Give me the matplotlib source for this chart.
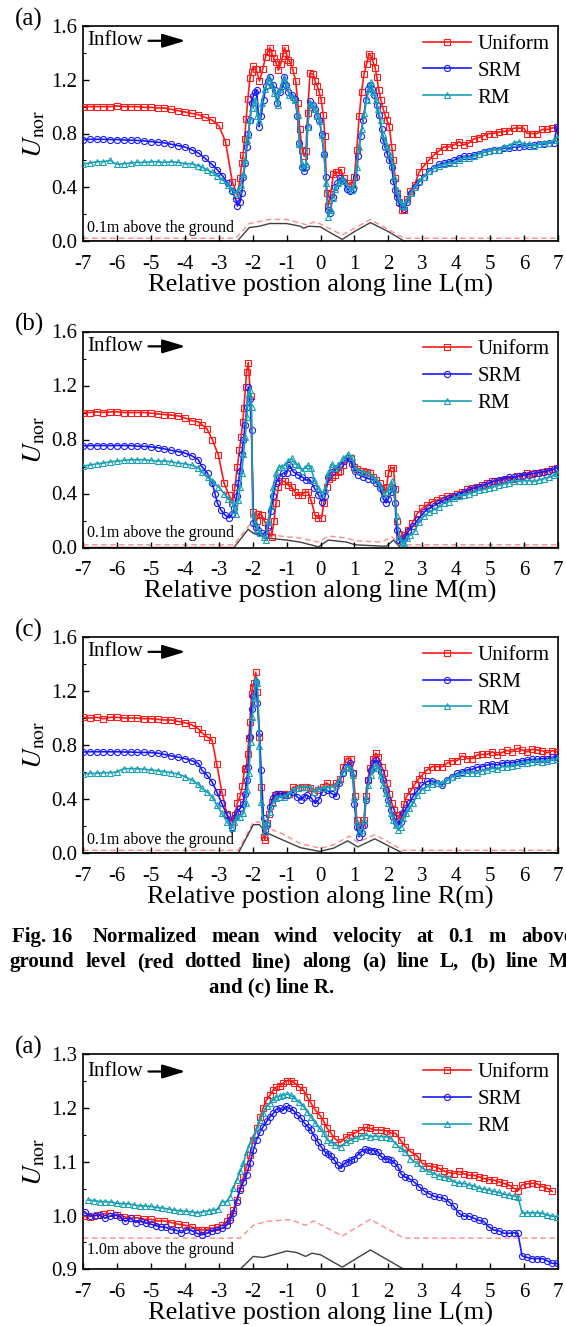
import matplotlib
matplotlib.use('Agg')
import matplotlib.pyplot as plt
from matplotlib.ticker import MultipleLocator, FormatStrFormatter

plt.rcParams['font.family'] = ['Liberation Serif', 'DejaVu Serif']
plt.rcParams['mathtext.fontset'] = 'stix'
plt.rcParams['axes.unicode_minus'] = False

# ---------------- Panel (a): line L, 0.1 m ----------------
L_uni_x = [-7.0,-6.8,-6.6,-6.4,-6.2,-6.0,-5.8,-5.6,-5.4,-5.2,-5.0,-4.8,-4.6,-4.4,-4.2,-4.0,-3.8,-3.6,-3.4,-3.2,-3.0,-2.8,-2.6,-2.45,-2.37,-2.32,-2.28,-2.24,-2.19,-2.14,-2.08,-2.03,-1.98,-1.9,-1.8,-1.7,-1.62,-1.55,-1.49,-1.44,-1.37,-1.32,-1.24,-1.17,-1.11,-1.06,-1.01,-0.95,-0.89,-0.81,-0.73,-0.67,-0.61,-0.54,-0.48,-0.43,-0.38,-0.31,-0.21,-0.16,-0.09,-0.04,0.02,0.08,0.13,0.18,0.23,0.30,0.38,0.45,0.52,0.60,0.68,0.80,0.92,1.00,1.07,1.14,1.21,1.28,1.36,1.42,1.48,1.54,1.61,1.66,1.72,1.78,1.85,1.90,1.96,2.03,2.10,2.15,2.20,2.24,2.31,2.39,2.46,2.54,2.64,2.78,2.90,3.05,3.19,3.34,3.49,3.63,3.78,3.93,4.08,4.22,4.37,4.52,4.67,4.81,4.96,5.10,5.25,5.40,5.55,5.70,5.84,5.99,6.09,6.24,6.39,6.53,6.68,6.83,6.97]
L_uni_y = [1.00,1.00,1.00,1.00,1.00,1.005,1.00,1.00,1.00,0.995,0.995,0.99,0.99,0.98,0.97,0.96,0.95,0.94,0.92,0.90,0.86,0.74,0.44,0.34,0.47,0.58,0.64,0.76,0.91,1.06,1.21,1.26,1.30,1.28,1.19,1.28,1.37,1.41,1.44,1.40,1.36,1.33,1.27,1.32,1.38,1.44,1.40,1.35,1.33,1.27,1.19,1.03,0.83,0.68,0.63,0.67,0.95,1.25,1.24,1.19,1.15,1.11,1.05,0.94,0.78,0.36,0.26,0.35,0.50,0.51,0.51,0.53,0.47,0.43,0.42,0.48,0.68,0.93,1.11,1.24,1.32,1.39,1.38,1.34,1.29,1.22,1.12,1.05,0.98,0.94,0.90,0.85,0.70,0.60,0.47,0.36,0.29,0.23,0.23,0.31,0.37,0.42,0.51,0.56,0.60,0.64,0.67,0.70,0.70,0.715,0.74,0.715,0.73,0.76,0.77,0.785,0.80,0.80,0.81,0.815,0.82,0.84,0.84,0.84,0.80,0.80,0.80,0.83,0.83,0.84,0.85]
L_srm_x = [-7.0,-6.8,-6.6,-6.4,-6.2,-6.0,-5.8,-5.6,-5.4,-5.2,-5.0,-4.8,-4.6,-4.4,-4.2,-4.0,-3.8,-3.6,-3.4,-3.2,-3.04,-2.89,-2.74,-2.6,-2.5,-2.45,-2.37,-2.32,-2.27,-2.22,-2.17,-2.13,-2.08,-2.03,-1.98,-1.93,-1.88,-1.81,-1.75,-1.68,-1.61,-1.54,-1.49,-1.41,-1.34,-1.27,-1.19,-1.12,-1.07,-1.02,-0.95,-0.85,-0.75,-0.68,-0.62,-0.55,-0.49,-0.43,-0.38,-0.31,-0.23,-0.16,-0.09,-0.03,0.03,0.10,0.16,0.21,0.28,0.36,0.43,0.50,0.57,0.65,0.77,0.87,0.97,1.05,1.11,1.18,1.26,1.34,1.41,1.46,1.53,1.58,1.66,1.72,1.80,1.85,1.90,1.97,2.03,2.10,2.15,2.20,2.24,2.31,2.39,2.46,2.56,2.66,2.78,2.90,3.05,3.19,3.34,3.49,3.63,3.78,3.93,4.08,4.22,4.37,4.52,4.67,4.81,4.96,5.10,5.25,5.40,5.55,5.70,5.84,5.99,6.14,6.29,6.43,6.58,6.73,6.88,6.97]
L_srm_y = [0.755,0.757,0.757,0.757,0.755,0.755,0.752,0.75,0.748,0.745,0.74,0.735,0.73,0.72,0.71,0.70,0.68,0.655,0.615,0.57,0.53,0.485,0.43,0.375,0.31,0.26,0.29,0.36,0.48,0.58,0.70,0.80,0.90,1.03,1.08,1.11,1.12,0.85,0.93,1.05,1.15,1.19,1.22,1.16,1.12,1.03,1.11,1.15,1.22,1.16,1.11,1.09,1.06,0.93,0.73,0.55,0.52,0.55,0.85,1.04,1.01,0.98,0.93,0.90,0.80,0.65,0.48,0.23,0.21,0.33,0.40,0.43,0.47,0.45,0.39,0.37,0.39,0.48,0.63,0.78,0.90,1.05,1.13,1.16,1.13,1.09,1.01,0.94,0.83,0.75,0.70,0.65,0.60,0.55,0.45,0.38,0.33,0.28,0.26,0.24,0.29,0.36,0.40,0.44,0.48,0.52,0.54,0.57,0.58,0.59,0.60,0.62,0.63,0.63,0.64,0.65,0.66,0.67,0.68,0.68,0.69,0.69,0.70,0.70,0.71,0.71,0.715,0.72,0.72,0.73,0.73,0.85]
L_rm_x = [-7.0,-6.8,-6.6,-6.4,-6.2,-6.0,-5.8,-5.6,-5.4,-5.2,-5.0,-4.8,-4.6,-4.4,-4.2,-4.0,-3.8,-3.6,-3.5,-3.35,-3.19,-3.04,-2.89,-2.74,-2.6,-2.49,-2.42,-2.35,-2.27,-2.22,-2.17,-2.13,-2.08,-2.03,-1.93,-1.86,-1.80,-1.73,-1.65,-1.59,-1.51,-1.44,-1.36,-1.26,-1.19,-1.11,-1.07,-0.99,-0.92,-0.82,-0.75,-0.67,-0.62,-0.54,-0.48,-0.43,-0.38,-0.31,-0.23,-0.16,-0.09,-0.02,0.04,0.11,0.16,0.23,0.30,0.36,0.43,0.53,0.62,0.70,0.82,0.92,1.00,1.07,1.14,1.21,1.29,1.36,1.43,1.48,1.56,1.63,1.70,1.77,1.83,1.90,1.97,2.05,2.12,2.17,2.24,2.31,2.39,2.46,2.56,2.66,2.78,2.90,3.05,3.19,3.34,3.49,3.63,3.78,3.93,4.08,4.22,4.37,4.52,4.67,4.81,4.96,5.10,5.25,5.40,5.55,5.70,5.84,5.99,6.14,6.29,6.43,6.58,6.73,6.88,6.97]
L_rm_y = [0.575,0.58,0.59,0.59,0.60,0.57,0.575,0.58,0.585,0.585,0.59,0.59,0.585,0.59,0.585,0.575,0.575,0.56,0.55,0.53,0.51,0.485,0.455,0.42,0.38,0.355,0.38,0.42,0.50,0.60,0.75,0.79,0.90,0.99,1.05,0.93,0.89,1.03,1.13,1.16,1.21,1.16,1.10,1.01,1.13,1.19,1.21,1.15,1.09,1.07,1.05,0.94,0.72,0.57,0.54,0.57,0.85,1.03,1.01,0.98,0.93,0.89,0.79,0.65,0.43,0.18,0.23,0.32,0.39,0.43,0.46,0.45,0.40,0.38,0.42,0.55,0.70,0.83,0.95,1.05,1.13,1.18,1.11,1.05,0.98,0.90,0.80,0.74,0.70,0.64,0.58,0.48,0.38,0.31,0.27,0.26,0.31,0.36,0.40,0.45,0.48,0.52,0.54,0.56,0.57,0.58,0.58,0.60,0.62,0.62,0.63,0.65,0.66,0.67,0.68,0.68,0.70,0.71,0.73,0.74,0.72,0.72,0.71,0.72,0.73,0.73,0.75,0.77]
L_gnd_x = [-7,-2.45,-2.1,-1.8,-1.5,-1.0,-0.6,-0.5,-0.35,0.0,0.3,0.64,1.0,1.47,2.0,2.46,7]
L_gnd_y = [0,0,0.10,0.11,0.13,0.13,0.11,0.095,0.11,0.105,0.06,0.012,0.07,0.137,0.07,0,0]
L_dash_x = [-7,-2.5,-2.1,-1.5,-1.0,-0.4,-0.15,0.64,1.47,2.46,7]
L_dash_y = [0.02,0.02,0.13,0.16,0.16,0.12,0.145,0.045,0.16,0.02,0.02]

# ---------------- Panel (b): line M, 0.1 m ----------------
M_uni_x = [-7.0,-6.8,-6.6,-6.4,-6.2,-6.0,-5.8,-5.6,-5.4,-5.2,-5.0,-4.8,-4.6,-4.4,-4.2,-4.0,-3.8,-3.6,-3.5,-3.35,-3.19,-3.01,-2.84,-2.70,-2.60,-2.52,-2.45,-2.39,-2.34,-2.29,-2.26,-2.21,-2.18,-2.13,-2.06,-1.98,-1.88,-1.83,-1.73,-1.64,-1.54,-1.44,-1.37,-1.31,-1.24,-1.14,-1.05,-0.95,-0.85,-0.75,-0.67,-0.55,-0.46,-0.36,-0.28,-0.16,-0.06,0.03,0.10,0.18,0.26,0.33,0.43,0.51,0.57,0.67,0.82,0.90,0.99,1.07,1.16,1.26,1.36,1.46,1.56,1.65,1.75,1.83,1.90,1.95,2.00,2.07,2.15,2.20,2.24,2.31,2.39,2.46,2.57,2.70,2.85,3.00,3.14,3.29,3.44,3.59,3.73,3.88,4.03,4.17,4.32,4.47,4.62,4.76,4.91,5.06,5.21,5.35,5.50,5.65,5.80,5.94,6.09,6.24,6.39,6.53,6.68,6.83,6.97]
M_uni_y = [1.00,1.00,1.005,1.00,1.005,1.005,1.00,1.00,1.00,1.00,0.995,0.99,0.985,0.98,0.975,0.96,0.94,0.93,0.91,0.88,0.80,0.685,0.475,0.39,0.33,0.45,0.60,0.72,0.82,0.93,1.03,1.19,1.30,1.37,1.12,0.26,0.20,0.25,0.24,0.19,0.12,0.08,0.20,0.33,0.45,0.49,0.49,0.46,0.45,0.41,0.39,0.39,0.41,0.41,0.35,0.24,0.22,0.22,0.33,0.45,0.51,0.525,0.54,0.56,0.57,0.61,0.66,0.66,0.60,0.585,0.57,0.57,0.56,0.55,0.525,0.50,0.475,0.44,0.41,0.45,0.55,0.59,0.59,0.43,0.20,0.10,0.06,0.09,0.13,0.18,0.25,0.29,0.315,0.34,0.35,0.365,0.38,0.385,0.40,0.41,0.43,0.44,0.45,0.46,0.475,0.49,0.495,0.50,0.51,0.51,0.53,0.53,0.55,0.545,0.555,0.56,0.57,0.58,0.59]
M_srm_x = [-7.0,-6.8,-6.6,-6.4,-6.2,-6.0,-5.8,-5.6,-5.4,-5.2,-5.0,-4.8,-4.6,-4.4,-4.2,-4.0,-3.8,-3.6,-3.5,-3.33,-3.19,-3.11,-3.04,-2.94,-2.81,-2.69,-2.60,-2.54,-2.47,-2.42,-2.37,-2.32,-2.27,-2.22,-2.17,-2.13,-2.08,-2.03,-1.98,-1.91,-1.83,-1.73,-1.64,-1.54,-1.46,-1.39,-1.31,-1.21,-1.10,-1.00,-0.92,-0.80,-0.67,-0.55,-0.43,-0.31,-0.18,-0.06,0.03,0.13,0.23,0.33,0.46,0.57,0.69,0.82,0.92,1.02,1.11,1.26,1.41,1.56,1.65,1.75,1.85,1.93,2.00,2.08,2.15,2.20,2.24,2.32,2.41,2.49,2.59,2.73,2.88,3.05,3.19,3.34,3.49,3.63,3.78,3.93,4.08,4.22,4.37,4.52,4.67,4.81,4.96,5.10,5.25,5.40,5.55,5.70,5.84,5.99,6.14,6.29,6.43,6.58,6.73,6.88,6.97]
M_srm_y = [0.752,0.755,0.755,0.755,0.755,0.755,0.755,0.755,0.75,0.75,0.745,0.74,0.73,0.72,0.71,0.70,0.68,0.65,0.60,0.55,0.475,0.40,0.33,0.28,0.24,0.22,0.25,0.29,0.38,0.48,0.57,0.69,0.80,0.91,1.04,1.19,1.10,0.87,0.18,0.15,0.13,0.105,0.09,0.15,0.27,0.38,0.48,0.525,0.55,0.55,0.61,0.56,0.54,0.525,0.50,0.50,0.44,0.39,0.34,0.38,0.525,0.56,0.59,0.61,0.64,0.66,0.62,0.57,0.54,0.525,0.51,0.50,0.475,0.44,0.36,0.33,0.36,0.41,0.44,0.33,0.13,0.055,0.04,0.08,0.12,0.16,0.21,0.26,0.29,0.31,0.33,0.35,0.365,0.38,0.39,0.41,0.425,0.44,0.45,0.46,0.475,0.49,0.50,0.51,0.52,0.52,0.53,0.54,0.54,0.55,0.555,0.56,0.57,0.58,0.59]
M_rm_x = [-7.0,-6.8,-6.6,-6.4,-6.2,-6.0,-5.8,-5.6,-5.4,-5.2,-5.0,-4.8,-4.6,-4.4,-4.2,-4.0,-3.8,-3.6,-3.5,-3.33,-3.19,-3.01,-2.84,-2.72,-2.60,-2.54,-2.49,-2.42,-2.37,-2.32,-2.27,-2.22,-2.17,-2.15,-2.11,-2.08,-2.03,-2.00,-1.93,-1.86,-1.78,-1.68,-1.61,-1.54,-1.47,-1.39,-1.31,-1.22,-1.14,-1.05,-0.95,-0.85,-0.75,-0.65,-0.55,-0.46,-0.36,-0.28,-0.18,-0.06,0.03,0.13,0.23,0.33,0.43,0.53,0.67,0.82,0.92,1.02,1.14,1.26,1.41,1.54,1.65,1.75,1.87,1.95,2.03,2.10,2.17,2.24,2.32,2.39,2.46,2.54,2.64,2.78,2.90,3.05,3.19,3.34,3.49,3.63,3.78,3.93,4.08,4.22,4.37,4.52,4.67,4.81,4.96,5.10,5.25,5.40,5.55,5.70,5.84,5.99,6.14,6.29,6.43,6.58,6.73,6.88,6.97]
M_rm_y = [0.604,0.61,0.62,0.625,0.635,0.64,0.645,0.65,0.65,0.65,0.645,0.64,0.64,0.635,0.625,0.62,0.61,0.59,0.56,0.52,0.49,0.45,0.40,0.36,0.33,0.28,0.25,0.35,0.45,0.55,0.69,0.82,0.97,1.07,1.14,1.17,1.04,0.25,0.19,0.14,0.105,0.08,0.055,0.20,0.31,0.45,0.55,0.60,0.60,0.61,0.64,0.66,0.62,0.61,0.57,0.59,0.61,0.59,0.50,0.44,0.40,0.43,0.55,0.62,0.59,0.61,0.66,0.69,0.67,0.59,0.57,0.56,0.55,0.525,0.50,0.46,0.40,0.41,0.45,0.49,0.43,0.23,0.08,0.04,0.03,0.07,0.09,0.12,0.19,0.23,0.26,0.28,0.30,0.33,0.34,0.365,0.38,0.39,0.40,0.41,0.425,0.43,0.44,0.45,0.46,0.47,0.48,0.49,0.49,0.495,0.495,0.49,0.50,0.51,0.52,0.535,0.55]
M_gnd_x = [-7,-2.55,-2.13,-1.98,-1.59,-1.0,-0.6,-0.06,0.23,0.77,1.02,1.8,1.95,2.15,2.35,7]
M_gnd_y = [0,0,0.135,0.105,0.07,0.055,0.04,0.005,0.055,0.04,0.02,0.01,0.01,0.055,0,0]
M_dash_x = [-7,-2.55,-2.1,-1.95,-1.59,-1.0,-0.6,-0.06,0.23,0.77,1.02,1.8,2.1,2.35,7]
M_dash_y = [0.02,0.02,0.165,0.13,0.095,0.08,0.07,0.04,0.085,0.07,0.05,0.04,0.08,0.02,0.02]

# ---------------- Panel (c): line R, 0.1 m ----------------
R_uni_x = [-7.0,-6.8,-6.6,-6.4,-6.2,-6.0,-5.8,-5.6,-5.4,-5.2,-5.0,-4.8,-4.6,-4.4,-4.2,-4.0,-3.8,-3.6,-3.5,-3.35,-3.20,-3.06,-2.91,-2.76,-2.62,-2.52,-2.45,-2.37,-2.30,-2.24,-2.19,-2.15,-2.11,-2.08,-2.03,-2.00,-1.96,-1.91,-1.86,-1.80,-1.75,-1.68,-1.64,-1.59,-1.51,-1.44,-1.34,-1.24,-1.14,-1.05,-0.92,-0.80,-0.65,-0.55,-0.43,-0.31,-0.18,-0.06,0.06,0.18,0.33,0.46,0.57,0.67,0.77,0.89,0.97,1.02,1.07,1.13,1.21,1.28,1.33,1.39,1.46,1.54,1.63,1.70,1.80,1.88,1.95,2.02,2.10,2.17,2.24,2.32,2.39,2.46,2.54,2.66,2.78,2.90,3.00,3.14,3.29,3.44,3.59,3.73,3.88,4.03,4.17,4.32,4.47,4.62,4.76,4.91,5.06,5.21,5.35,5.50,5.65,5.80,5.94,6.09,6.24,6.39,6.53,6.68,6.83,6.97]
R_uni_y = [1.005,1.00,1.005,0.995,1.005,1.005,1.00,1.00,1.00,0.995,0.995,0.99,0.985,0.985,0.975,0.965,0.95,0.92,0.89,0.86,0.84,0.66,0.455,0.29,0.233,0.28,0.37,0.42,0.50,0.62,0.63,0.73,0.85,0.97,1.18,1.23,1.26,1.34,1.195,0.86,0.49,0.12,0.10,0.22,0.29,0.38,0.43,0.44,0.44,0.44,0.44,0.49,0.48,0.49,0.49,0.48,0.455,0.47,0.49,0.52,0.49,0.52,0.55,0.64,0.70,0.70,0.59,0.42,0.245,0.195,0.208,0.245,0.42,0.54,0.63,0.70,0.74,0.71,0.64,0.59,0.52,0.44,0.37,0.32,0.28,0.26,0.29,0.36,0.42,0.46,0.51,0.55,0.58,0.615,0.64,0.64,0.64,0.665,0.684,0.684,0.72,0.70,0.70,0.726,0.73,0.73,0.75,0.726,0.745,0.76,0.75,0.775,0.763,0.75,0.768,0.763,0.758,0.743,0.758,0.75]
R_srm_x = [-7.0,-6.8,-6.6,-6.4,-6.2,-6.0,-5.8,-5.6,-5.4,-5.2,-5.0,-4.8,-4.6,-4.4,-4.2,-4.0,-3.8,-3.6,-3.5,-3.35,-3.20,-3.06,-2.91,-2.76,-2.62,-2.54,-2.45,-2.37,-2.29,-2.22,-2.17,-2.13,-2.08,-2.03,-1.98,-1.91,-1.86,-1.80,-1.75,-1.68,-1.64,-1.57,-1.49,-1.41,-1.31,-1.19,-1.08,-0.95,-0.82,-0.70,-0.58,-0.49,-0.41,-0.26,-0.16,-0.06,0.06,0.18,0.33,0.46,0.55,0.65,0.75,0.87,0.95,1.00,1.07,1.13,1.21,1.28,1.34,1.41,1.48,1.56,1.64,1.70,1.78,1.85,1.93,2.00,2.08,2.15,2.22,2.29,2.36,2.44,2.52,2.62,2.73,2.85,3.00,3.14,3.29,3.44,3.59,3.73,3.88,4.03,4.17,4.32,4.47,4.62,4.76,4.91,5.06,5.21,5.35,5.50,5.65,5.80,5.94,6.09,6.24,6.39,6.53,6.68,6.83,6.97]
R_srm_y = [0.748,0.75,0.75,0.75,0.75,0.75,0.748,0.748,0.745,0.745,0.744,0.74,0.73,0.72,0.71,0.70,0.685,0.664,0.615,0.578,0.528,0.455,0.368,0.282,0.195,0.257,0.307,0.33,0.36,0.44,0.54,0.64,0.86,1.07,1.16,1.27,1.11,0.89,0.615,0.257,0.17,0.21,0.344,0.405,0.437,0.44,0.43,0.43,0.455,0.418,0.393,0.418,0.43,0.405,0.368,0.393,0.455,0.467,0.44,0.42,0.517,0.59,0.64,0.665,0.59,0.36,0.195,0.12,0.146,0.208,0.393,0.54,0.615,0.665,0.69,0.66,0.603,0.54,0.467,0.393,0.32,0.27,0.232,0.208,0.232,0.294,0.33,0.368,0.42,0.46,0.504,0.53,0.536,0.516,0.504,0.54,0.566,0.59,0.603,0.615,0.62,0.635,0.64,0.652,0.66,0.652,0.665,0.67,0.67,0.677,0.684,0.69,0.694,0.694,0.70,0.70,0.709,0.714]
R_rm_x = [-7.0,-6.8,-6.6,-6.4,-6.2,-6.0,-5.8,-5.6,-5.4,-5.2,-5.0,-4.8,-4.6,-4.4,-4.2,-4.0,-3.8,-3.6,-3.5,-3.35,-3.20,-3.06,-2.91,-2.76,-2.62,-2.54,-2.45,-2.37,-2.27,-2.20,-2.16,-2.11,-2.06,-2.01,-1.96,-1.91,-1.86,-1.80,-1.75,-1.68,-1.64,-1.57,-1.49,-1.41,-1.31,-1.19,-1.08,-0.95,-0.82,-0.70,-0.58,-0.46,-0.31,-0.18,-0.06,0.06,0.18,0.33,0.46,0.55,0.65,0.77,0.87,0.95,1.00,1.07,1.13,1.21,1.28,1.34,1.41,1.48,1.56,1.64,1.70,1.78,1.85,1.93,2.00,2.08,2.15,2.22,2.29,2.36,2.44,2.52,2.62,2.73,2.85,3.00,3.14,3.29,3.44,3.59,3.73,3.88,4.03,4.17,4.32,4.47,4.62,4.76,4.91,5.06,5.21,5.35,5.50,5.65,5.80,5.94,6.09,6.24,6.39,6.53,6.68,6.83,6.97]
R_rm_y = [0.585,0.59,0.59,0.595,0.595,0.60,0.625,0.625,0.625,0.62,0.615,0.61,0.603,0.595,0.585,0.566,0.54,0.51,0.48,0.455,0.418,0.356,0.294,0.232,0.183,0.232,0.27,0.27,0.294,0.368,0.467,0.59,0.825,1.01,1.15,1.29,1.26,0.79,0.38,0.208,0.158,0.232,0.307,0.368,0.405,0.418,0.418,0.437,0.467,0.48,0.49,0.49,0.49,0.455,0.48,0.48,0.49,0.49,0.504,0.54,0.603,0.64,0.627,0.578,0.418,0.232,0.158,0.17,0.245,0.405,0.504,0.578,0.627,0.652,0.627,0.578,0.504,0.442,0.368,0.294,0.245,0.208,0.17,0.195,0.257,0.294,0.33,0.368,0.43,0.47,0.49,0.51,0.516,0.52,0.54,0.566,0.578,0.59,0.595,0.595,0.59,0.61,0.615,0.627,0.62,0.64,0.64,0.645,0.652,0.665,0.665,0.677,0.684,0.677,0.684,0.69,0.70]
R_gnd_x = [-7,-2.42,-1.98,-1.8,-1.59,-1.1,-0.6,-0.03,0.38,0.8,1.1,1.6,1.95,2.42,7]
R_gnd_y = [0,0,0.21,0.21,0.15,0.095,0.04,0.012,0.035,0.09,0.045,0.105,0.06,0,0]
R_dash_x = [-7,-2.42,-1.98,-1.8,-1.59,-1.1,-0.6,0.0,0.38,0.85,1.1,1.6,1.95,2.42,7]
R_dash_y = [0.02,0.02,0.23,0.23,0.19,0.14,0.07,0.035,0.06,0.125,0.08,0.135,0.09,0.02,0.02]

# ---------------- Panel (a, lower): line L, 1.0 m ----------------
H_uni_x = [-7.0,-6.8,-6.6,-6.4,-6.2,-6.0,-5.8,-5.6,-5.4,-5.2,-5.0,-4.8,-4.6,-4.4,-4.2,-4.0,-3.8,-3.6,-3.5,-3.35,-3.2,-3.05,-2.9,-2.76,-2.67,-2.57,-2.47,-2.37,-2.27,-2.18,-2.08,-1.98,-1.88,-1.78,-1.69,-1.59,-1.49,-1.39,-1.30,-1.20,-1.10,-1.00,-0.88,-0.77,-0.64,-0.51,-0.39,-0.28,-0.15,-0.02,0.10,0.20,0.31,0.44,0.59,0.74,0.88,1.03,1.18,1.33,1.47,1.62,1.77,1.92,2.06,2.21,2.36,2.50,2.65,2.85,3.00,3.19,3.34,3.49,3.63,3.78,3.93,4.08,4.22,4.37,4.52,4.67,4.81,4.96,5.10,5.25,5.40,5.55,5.70,5.82,5.94,6.09,6.24,6.39,6.53,6.68,6.83]
H_uni_y = [0.999,0.998,1.001,1.003,1.004,1.001,0.998,0.995,0.996,0.993,0.993,0.99,0.99,0.987,0.984,0.982,0.979,0.974,0.973,0.974,0.976,0.978,0.982,0.989,0.998,1.01,1.029,1.051,1.072,1.091,1.113,1.141,1.162,1.184,1.20,1.215,1.224,1.234,1.239,1.241,1.246,1.251,1.251,1.247,1.24,1.234,1.221,1.209,1.196,1.187,1.175,1.162,1.153,1.142,1.136,1.146,1.15,1.154,1.159,1.164,1.162,1.159,1.159,1.158,1.154,1.153,1.14,1.128,1.119,1.111,1.097,1.092,1.091,1.088,1.083,1.08,1.078,1.082,1.078,1.075,1.075,1.072,1.069,1.067,1.066,1.063,1.06,1.057,1.051,1.046,1.057,1.059,1.06,1.059,1.054,1.051,1.045]
H_srm_x = [-6.95,-6.8,-6.65,-6.5,-6.35,-6.2,-6.05,-5.9,-5.75,-5.6,-5.45,-5.3,-5.15,-5.0,-4.85,-4.7,-4.55,-4.4,-4.25,-4.1,-3.95,-3.8,-3.65,-3.5,-3.35,-3.2,-3.06,-2.91,-2.76,-2.67,-2.57,-2.47,-2.37,-2.27,-2.18,-2.08,-1.98,-1.88,-1.78,-1.69,-1.59,-1.49,-1.39,-1.30,-1.20,-1.10,-1.03,-0.93,-0.80,-0.69,-0.57,-0.47,-0.37,-0.28,-0.18,-0.08,0.02,0.12,0.22,0.31,0.41,0.51,0.61,0.71,0.81,0.90,1.00,1.10,1.20,1.30,1.39,1.49,1.59,1.69,1.79,1.89,1.98,2.08,2.18,2.28,2.38,2.48,2.60,2.75,2.90,3.05,3.19,3.34,3.49,3.63,3.78,3.93,4.08,4.22,4.37,4.52,4.67,4.81,4.96,5.10,5.25,5.40,5.55,5.70,5.82,5.94,6.09,6.24,6.39,6.53,6.68,6.83,6.97]
H_srm_y = [1.007,0.999,1.0,1.001,0.995,0.999,1.001,0.997,0.989,0.995,0.987,0.99,0.986,0.984,0.981,0.979,0.978,0.974,0.973,0.968,0.974,0.972,0.967,0.964,0.967,0.972,0.974,0.976,0.982,0.992,1.005,1.026,1.048,1.063,1.076,1.097,1.122,1.141,1.156,1.165,1.175,1.184,1.19,1.198,1.20,1.196,1.203,1.20,1.196,1.187,1.181,1.172,1.165,1.159,1.147,1.137,1.128,1.119,1.115,1.11,1.103,1.094,1.088,1.097,1.10,1.103,1.106,1.113,1.119,1.123,1.122,1.121,1.121,1.119,1.11,1.105,1.105,1.103,1.098,1.091,1.077,1.072,1.069,1.063,1.054,1.046,1.041,1.036,1.034,1.032,1.026,1.017,1.004,0.999,0.999,0.995,0.991,0.989,0.979,0.973,0.972,0.967,0.967,0.968,0.967,0.925,0.922,0.92,0.92,0.92,0.916,0.911,0.911]
H_rm_x = [-6.86,-6.69,-6.51,-6.34,-6.17,-6.0,-5.82,-5.66,-5.51,-5.33,-5.17,-5.0,-4.82,-4.66,-4.48,-4.31,-4.14,-3.96,-3.79,-3.63,-3.47,-3.30,-3.16,-3.01,-2.91,-2.76,-2.67,-2.57,-2.47,-2.37,-2.27,-2.18,-2.08,-1.98,-1.88,-1.78,-1.69,-1.59,-1.49,-1.39,-1.30,-1.20,-1.10,-1.00,-0.88,-0.77,-0.64,-0.51,-0.39,-0.28,-0.15,-0.02,0.10,0.20,0.31,0.44,0.59,0.74,0.88,1.03,1.18,1.33,1.47,1.62,1.77,1.92,2.06,2.21,2.36,2.50,2.65,2.85,3.00,3.19,3.34,3.49,3.63,3.78,3.93,4.08,4.22,4.37,4.52,4.67,4.81,4.96,5.10,5.25,5.40,5.55,5.70,5.82,5.94,6.09,6.24,6.39,6.53,6.68,6.83,6.97]
H_rm_y = [1.029,1.028,1.026,1.026,1.025,1.023,1.022,1.022,1.02,1.018,1.018,1.017,1.015,1.014,1.012,1.01,1.009,1.008,1.007,1.005,1.007,1.009,1.01,1.012,1.026,1.026,1.035,1.051,1.066,1.082,1.097,1.119,1.134,1.147,1.162,1.178,1.19,1.203,1.209,1.216,1.221,1.222,1.224,1.226,1.224,1.218,1.212,1.204,1.193,1.184,1.172,1.162,1.153,1.14,1.137,1.131,1.128,1.136,1.14,1.144,1.148,1.15,1.147,1.148,1.147,1.147,1.144,1.134,1.125,1.119,1.106,1.097,1.088,1.082,1.078,1.074,1.072,1.069,1.063,1.06,1.06,1.057,1.055,1.051,1.049,1.048,1.045,1.043,1.04,1.038,1.036,1.035,1.005,1.005,1.005,1.005,1.004,1.001,0.999,0.998]
H_gnd_x = [-7,-2.37,-1.98,-1.69,-1.39,-1.0,-0.69,-0.44,-0.25,0.0,0.64,1.47,2.46,7]
H_gnd_y = [0.9,0.9,0.924,0.922,0.927,0.934,0.931,0.924,0.93,0.927,0.904,0.936,0.9,0.9]
H_dash_x = [-7,-2.37,-1.98,-1.59,-1.0,-0.88,-0.44,-0.2,0.64,1.47,2.46,7]
H_dash_y = [0.958,0.958,0.982,0.989,0.992,0.992,0.982,0.99,0.962,0.993,0.958,0.958]

series_names = ['Uniform', 'SRM', 'RM']
series_colors = ['#ff1a1a', '#1a1aff', '#1aa0b4']
series_markers = ['s', 'o', '^']
x_ticks = [-7, -6, -5, -4, -3, -2, -1, 0, 1, 2, 3, 4, 5, 6, 7]

# caption (the reference crop cuts lines 1 and 2 at the right edge)
cap1_words = ['Fig. 16 ', 'Normalized', 'mean', 'wind', 'velocity', 'at', '0.1', 'm', 'above']
cap2_words = ['ground', 'level', '(red', 'dotted', 'line)', 'along', '(a)', 'line', 'L,', '(b)', 'line', 'M,']
cap3 = 'and (c) line R.'

W, H = 566, 1326
fig = plt.figure(figsize=(W / 100, H / 100), dpi=100)
renderer = fig.canvas.get_renderer()


def panel(top_px, bot_px, label, data, gnd, dash, ylim, ystep, xlabel, note, note_y, inflow_y):
    rect = [83 / W, 1 - bot_px / H, 475 / W, (bot_px - top_px) / H]
    ax = fig.add_axes(rect)
    ax.set_facecolor('none')
    ax.plot(dash[0], dash[1], color='#ff8c8c', lw=1.0, ls=(0, (4, 2.5)), zorder=1)
    ax.plot(gnd[0], gnd[1], color='#404040', lw=1.0, zorder=1)
    for (x, y), name, c, m in zip(data, series_names, series_colors, series_markers):
        ax.plot(x, y, color=c, lw=1.2, marker=m, ms=4.2 if m != 'o' else 4.4,
                mfc='none', mec=c, mew=0.8, label=name, zorder=3)
    ax.set_xlim(-7, 7)
    ax.set_ylim(*ylim)
    ax.set_xticks(x_ticks)
    ax.set_xticklabels([str(t) for t in x_ticks])
    ax.yaxis.set_major_locator(MultipleLocator(ystep))
    ax.yaxis.set_minor_locator(MultipleLocator(ystep / 2))
    ax.yaxis.set_major_formatter(FormatStrFormatter('%.1f'))
    ax.tick_params(axis='both', which='major', direction='in', length=4, width=1,
                   labelsize=15)
    ax.tick_params(axis='x', which='major', pad=10)
    ax.tick_params(axis='y', which='major', pad=4)
    ax.tick_params(axis='y', which='minor', direction='in', length=2.5, width=0.8)
    for s in ax.spines.values():
        s.set_linewidth(1.2)
    ax.set_xlabel(xlabel, fontsize=19, labelpad=0)
    ax.set_ylabel(r'$U_{\mathrm{nor}}$', fontsize=20, labelpad=3)
    ax.legend(loc='upper right', frameon=False, fontsize=15, handlelength=2.3,
              handletextpad=0.3, labelspacing=0.35, borderaxespad=0.1, borderpad=0.3)
    ax.text(-6.88, inflow_y, 'Inflow', fontsize=15, ha='left', va='center')
    ax.annotate('', xy=(-3.98, inflow_y), xytext=(-5.07, inflow_y),
                arrowprops=dict(arrowstyle='-|>,head_length=1.4,head_width=0.42',
                                color='black', lw=1.6, shrinkA=0, shrinkB=0))
    ax.text(-6.88, note_y, note, fontsize=11.5, ha='left', va='center')
    fig.text(29 / W, 1 - (top_px - 7) / H, label, fontsize=18, ha='center', va='center')
    return ax


def justified(words, x_left, x_right, y_px):
    """Place words with equal gaps so that the last word ends at x_right (px)."""
    texts = [fig.text(0, 1 - y_px / H, w, fontsize=15, fontweight='bold',
                      ha='left', va='center') for w in words]
    widths = [t.get_window_extent(renderer).width for t in texts]
    gap = (x_right - x_left - sum(widths)) / (len(words) - 1)
    x = x_left
    for t, wd in zip(texts, widths):
        t.set_x(x / W)
        x += wd + gap


panel(26, 241, '(a)', [(L_uni_x, L_uni_y), (L_srm_x, L_srm_y), (L_rm_x, L_rm_y)],
      (L_gnd_x, L_gnd_y), (L_dash_x, L_dash_y), (0, 1.6), 0.4,
      'Relative postion along line L(m)', '0.1m above the ground', 0.097, 1.49)
panel(331.5, 547.5, '(b)', [(M_uni_x, M_uni_y), (M_srm_x, M_srm_y), (M_rm_x, M_rm_y)],
      (M_gnd_x, M_gnd_y), (M_dash_x, M_dash_y), (0, 1.6), 0.4,
      'Relative postion along line M(m)', '0.1m above the ground', 0.105, 1.49)
panel(637, 853, '(c)', [(R_uni_x, R_uni_y), (R_srm_x, R_srm_y), (R_rm_x, R_rm_y)],
      (R_gnd_x, R_gnd_y), (R_dash_x, R_dash_y), (0, 1.6), 0.4,
      'Relative postion along line R(m)', '0.1m above the ground', 0.097, 1.49)
panel(1054.3, 1269.3, '(a)', [(H_uni_x, H_uni_y), (H_srm_x, H_srm_y), (H_rm_x, H_rm_y)],
      (H_gnd_x, H_gnd_y), (H_dash_x, H_dash_y), (0.9, 1.3), 0.1,
      'Relative postion along line L(m)', '1.0m above the ground', 0.935, 1.268)

justified(cap1_words, 12, 573, 937)
justified(cap2_words, 10, 574, 962)
fig.text(272 / W, 1 - 987 / H, cap3, fontsize=15, fontweight='bold', ha='center', va='center')

fig.savefig('out.png', dpi=100)
